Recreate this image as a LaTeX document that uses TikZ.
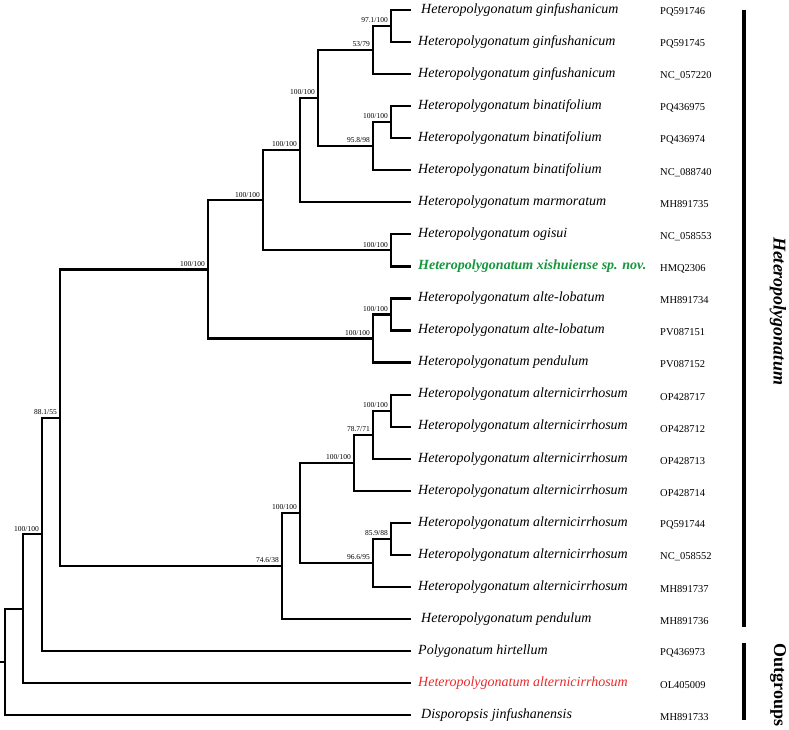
\documentclass[tikz,border=0pt]{standalone}
\usepackage{fontspec}
\setmainfont{Liberation Serif}
\usetikzlibrary{calc}
\definecolor{novgreen}{RGB}{22,150,62}
\definecolor{outred}{RGB}{235,40,40}

% 分支: 名称, x, 子1, 子2, 支持率
\newcommand{\clade}[5]{%
  \path let \p1=($(#3)!.5!(#4)$) in (#2pt,\y1) coordinate (#1);
  \draw[branch] (#3) -| (#1) |- (#4);
  \def\cladelab{#5}%
  \ifx\cladelab\empty\else\node[supp] (s#1) at (#1) {#5};\fi}

\begin{document}
\begin{tikzpicture}[x=1pt,y=-1pt,line join=miter,
  branch/.style={line width=2.2pt},
  bar/.style={line width=3.5pt},
  tx/.style={anchor=west,inner sep=0pt,xshift=7pt,font=\fontsize{14}{16}\selectfont\itshape},
  txsp/.style={tx,xshift=3pt},
  txnew/.style={tx,font=\fontsize{14}{16}\selectfont\bfseries\itshape,text=novgreen},
  txout/.style={tx,text=outred},
  acc/.style={anchor=west,inner sep=0pt,yshift=-2pt,font=\fontsize{10.5}{12}\selectfont},
  supp/.style={anchor=south east,inner sep=0pt,xshift=-3pt,yshift=3pt,font=\fontsize{7.5}{9}\selectfont},
  grp/.style={rotate=-90,inner sep=0pt,font=\fontsize{18}{20}\selectfont\bfseries}]
  \useasboundingbox (0,0) rectangle (789,730);
  % 叶
  \foreach \sty/\nm/\an [count=\i] in {%
    txsp/Heteropolygonatum ginfushanicum/PQ591746,%
    tx/Heteropolygonatum ginfushanicum/PQ591745,%
    tx/Heteropolygonatum ginfushanicum/NC\_057220,%
    tx/Heteropolygonatum binatifolium/PQ436975,%
    tx/Heteropolygonatum binatifolium/PQ436974,%
    tx/Heteropolygonatum binatifolium/NC\_088740,%
    tx/Heteropolygonatum marmoratum/MH891735,%
    tx/Heteropolygonatum ogisui/NC\_058553,%
    txnew/Heteropolygonatum xishuiense sp. nov./HMQ2306,%
    tx/Heteropolygonatum alte-lobatum/MH891734,%
    tx/Heteropolygonatum alte-lobatum/PV087151,%
    tx/Heteropolygonatum pendulum/PV087152,%
    tx/Heteropolygonatum alternicirrhosum/OP428717,%
    tx/Heteropolygonatum alternicirrhosum/OP428712,%
    tx/Heteropolygonatum alternicirrhosum/OP428713,%
    tx/Heteropolygonatum alternicirrhosum/OP428714,%
    tx/Heteropolygonatum alternicirrhosum/PQ591744,%
    tx/Heteropolygonatum alternicirrhosum/NC\_058552,%
    tx/Heteropolygonatum alternicirrhosum/MH891737,%
    txsp/Heteropolygonatum pendulum/MH891736,%
    tx/Polygonatum hirtellum/PQ436973,%
    txout/Heteropolygonatum alternicirrhosum/OL405009,%
    txsp/Disporopsis jinfushanensis/MH891733%
  } {
    \coordinate (l\i) at (411,{10+(\i-1)*32.05});
    \node[\sty] (t\i) at (l\i) {\nm};
    \node[acc] (a\i) at (660,{10+(\i-1)*32.05}) {\an};
  }
  % 内部节点
  \clade{nA}{391}{l1}{l2}{97.1/100}
  \clade{nB}{373}{nA}{l3}{53/79}
  \clade{nC}{391}{l4}{l5}{100/100}
  \clade{nD}{373}{nC}{l6}{95.8/98}
  \clade{nE}{318}{nB}{nD}{100/100}
  \clade{nF}{300}{nE}{l7}{100/100}
  \clade{nG}{391}{l8}{l9}{100/100}
  \clade{nH}{263}{nF}{nG}{100/100}
  \clade{nI}{391}{l10}{l11}{100/100}
  \clade{nJ}{373}{nI}{l12}{100/100}
  \clade{nK}{208}{nH}{nJ}{100/100}
  \clade{nL}{391}{l13}{l14}{100/100}
  \clade{nM}{373}{nL}{l15}{78.7/71}
  \clade{nN}{354}{nM}{l16}{100/100}
  \clade{nO}{391}{l17}{l18}{85.9/88}
  \clade{nP}{373}{nO}{l19}{96.6/95}
  \clade{nQ}{300}{nN}{nP}{100/100}
  \clade{nR}{282}{nQ}{l20}{74.6/38}
  \clade{nS}{60}{nK}{nR}{88.1/55}
  \clade{nT}{42}{nS}{l21}{100/100}
  \clade{nU}{23}{nT}{l22}{}
  \clade{nV}{5}{nU}{l23}{}
  \draw[branch] (nV) -- ++(-5,0);
  % 类群标注
  \draw[bar] (744,10) -- (744,627);
  \draw[bar] (744,643) -- (744,720);
  \node[grp,font=\fontsize{18}{20}\selectfont\bfseries\itshape] (gHet) at (778,311) {Heteropolygonatum};
  \node[grp] (gOut) at (778,685) {Outgroups};
\end{tikzpicture}
\end{document}
